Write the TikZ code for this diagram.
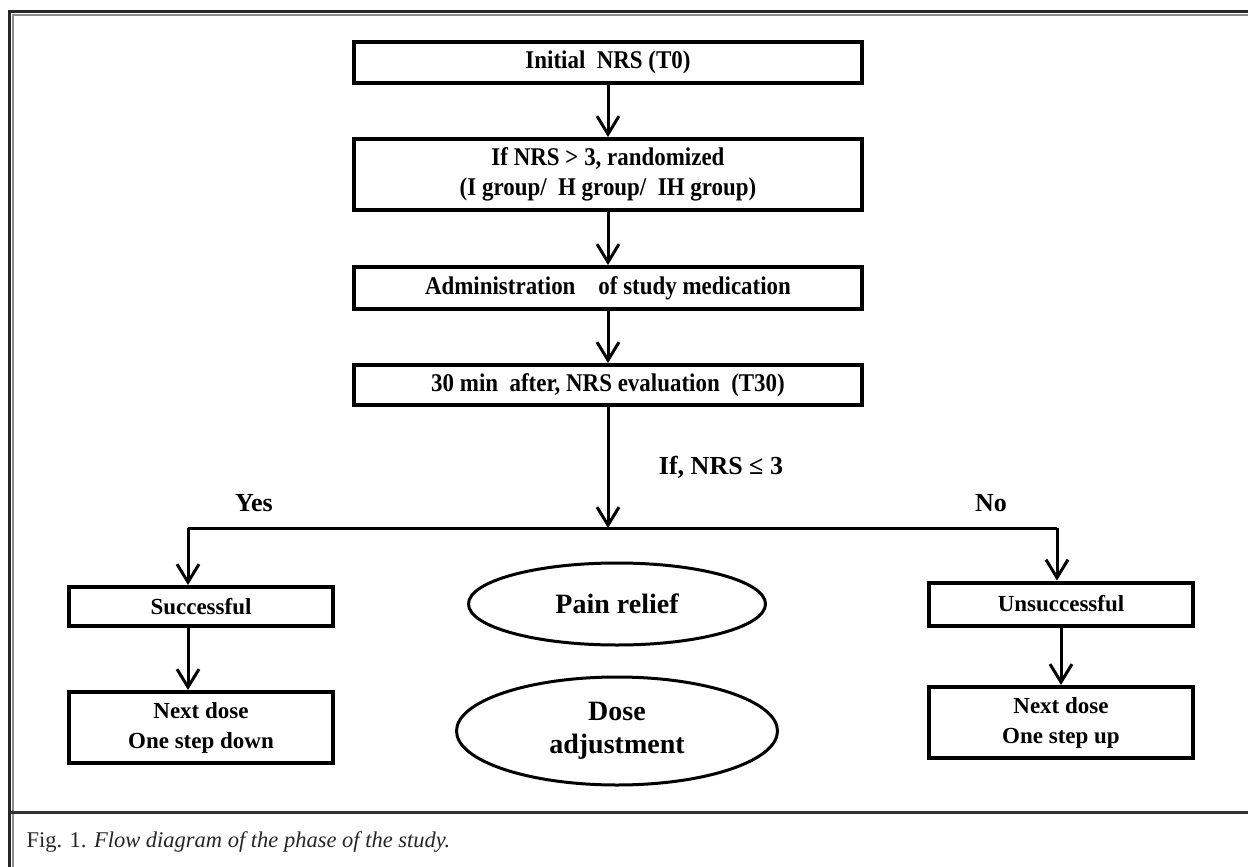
\documentclass[tikz,border=0pt]{standalone}
\usepackage{fontspec}
\setmainfont{Liberation Serif}
\newfontfamily\narrowfont{Liberation Serif}[FakeStretch=0.9]
\usetikzlibrary{arrows.meta,shapes.geometric}

\tikzset{
    box/.style={draw, line width=4pt, inner sep=0pt, align=center,
        font=\fontsize{23}{30}\selectfont\bfseries},
    mainbox/.style={box, minimum width=508pt,
        font=\narrowfont\fontsize{25.5}{30}\selectfont\bfseries},
    sidebox/.style={box, minimum width=264pt},
    oval/.style={ellipse, draw, line width=3pt, inner sep=0pt, align=center,
        font=\fontsize{28}{33}\selectfont\bfseries},
    lbl/.style={font=\fontsize{26}{30}\selectfont\bfseries},
    wire/.style={line width=3pt},
    arr/.style={wire, -{Straight Barb[length=18pt,width=22pt]}}
}

\begin{document}
\begin{tikzpicture}[x=1pt,y=-1pt]
\useasboundingbox (0,0) rectangle (1248,867);

% Frame
\draw[line width=3pt, black!85] (9.5,867) -- (9.5,11.3) -- (1248,11.3);
\draw[line width=1.8pt, black!45] (13.3,867) -- (13.3,15) -- (1248,15);
\draw[line width=3pt, black!80] (9.5,812) -- (1248,812);

% Main column
\node[mainbox, minimum height=41pt] (INIT) at (608,62.5) {Initial\ \ NRS (T0)};
\node[mainbox, minimum height=71pt] (RAND) at (608,174.5) {If NRS > 3, randomized\\(I group/\ \ H group/\ \ IH group)};
\node[mainbox, minimum height=42pt] (ADMIN) at (608,288) {Administration\ \ \ \ of study medication};
\node[mainbox, minimum height=40pt] (EVAL) at (608,385) {30 min\ \ after, NRS evaluation\ \ (T30)};
\draw[arr] (INIT.south) -- (RAND.north);
\draw[arr] (RAND.south) -- (ADMIN.north);
\draw[arr] (ADMIN.south) -- (EVAL.north);

% Branches
\node[sidebox, minimum height=39pt] (SUCC) at (201,606.5) {Successful};
\node[sidebox, minimum height=71pt] (DOWN) at (201,727.5) {Next dose\\One step down};
\node[sidebox, minimum height=43pt] (UNSUCC) at (1061,604) {Unsuccessful};
\node[sidebox, minimum height=71pt] (UP) at (1061,722.5) {Next dose\\One step up};

\coordinate (SPLIT) at (608,528);
\coordinate (YES) at (188,528);
\coordinate (NO) at (1057,528);
\draw[arr] (EVAL.south) -- (SPLIT);
\draw[wire] (YES) -- (NO);
\draw[arr] (YES) -- (YES |- SUCC.north);
\draw[arr] (NO) -- (NO |- UNSUCC.north);
\draw[arr] (SUCC.south -| YES) -- (YES |- DOWN.north);
\draw[arr] (UNSUCC.south) -- (UP.north);

\node[lbl] (IFNRS) at (721,467) {If, NRS ≤ 3};
\node[lbl] (YESL) at (254,503) {Yes};
\node[lbl] (NOL) at (991,503) {No};

% Centre ovals
\node[oval, minimum width=297pt, minimum height=82pt] (RELIEF) at (617,604) {Pain relief};
\node[oval, minimum width=321pt, minimum height=108pt] (ADJUST) at (617,731) {Dose\\adjustment};

% Caption
\node[anchor=west, text=black!85, font=\fontsize{22.5}{26}\selectfont] (CAP) at (23,842)
    {Fig. 1. \textit{Flow diagram of\ the phase of\ the study.}};
\end{tikzpicture}
\end{document}
